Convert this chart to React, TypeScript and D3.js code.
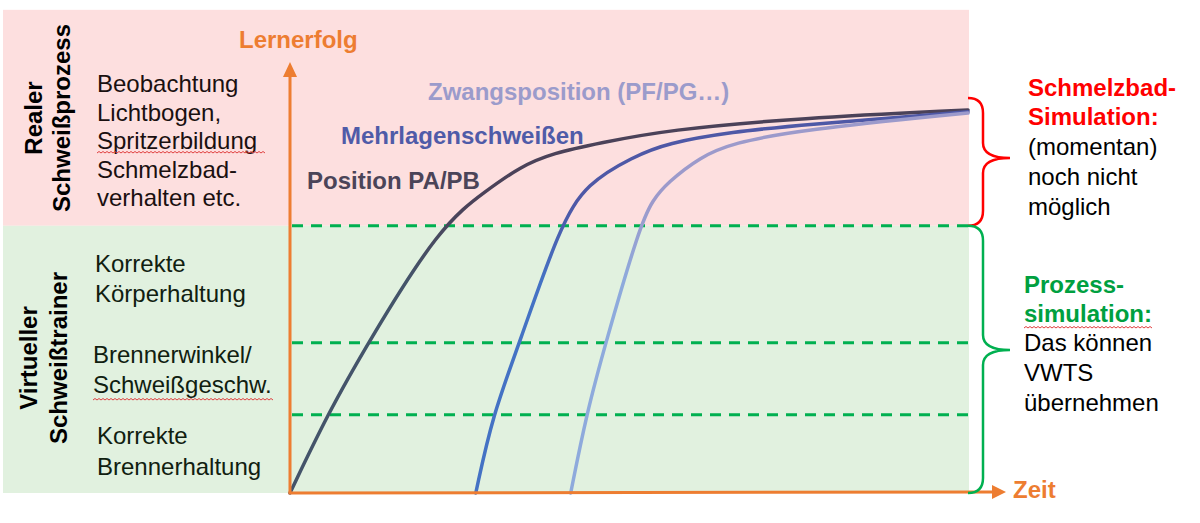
import * as d3 from "d3";

// Lernkurven (Zeit 0..100, Lernerfolg 0..100)
const curvePA = [[0, 0], [5.5, 20.3], [11.4, 38.7], [22.1, 69.4], [29.1, 78.7], [33.9, 84.7], [38.8, 88.3], [45.7, 90.9], [55.6, 94.3], [75.2, 97.4], [100, 99.5]];
const curveMehrlagen = [[27.4, 0], [29.9, 20.3], [33.8, 38.7], [39.8, 69.4], [43.8, 80.5], [50.6, 87.3], [55.6, 90.9], [65.3, 93.8], [75.2, 95.6], [100, 99.0]];
const curveZwang = [[41.4, 0], [43.7, 20.3], [46.5, 38.7], [51.6, 69.4], [53.5, 76.1], [55.6, 80.5], [60.5, 87.3], [65.3, 90.9], [75.2, 94.3], [100, 98.7]];

const curveNames = ["Position PA/PB", "Mehrlagenschweißen", "Zwangsposition (PF/PG…)"];
const levels = [69.4, 39.0, 20.3]; // gestrichelte Stufen
const bandTop = 125.5;

const leftTop = ["Beobachtung", "Lichtbogen,", "Spritzerbildung", "Schmelzbad-", "verhalten etc."];
const leftMid1 = ["Korrekte", "Körperhaltung"];
const leftMid2 = ["Brennerwinkel/", "Schweißgeschw."];
const leftBot = ["Korrekte", "Brennerhaltung"];
const rightTopHead = ["Schmelzbad-", "Simulation:"];
const rightTopBody = ["(momentan)", "noch nicht", "möglich"];
const rightBotHead = ["Prozess-", "simulation:"];
const rightBotBody = ["Das können", "VWTS", "übernehmen"];

const W = 1200, H = 523;
const x0 = 290, x1 = 968, y0 = 493, y1 = 108;
const x = d3.scaleLinear([0, 100], [x0, x1]);
const y = d3.scaleLinear([0, 100], [y0, y1]);
const FONT = "'Liberation Sans', Arial, sans-serif";
const ORANGE = "#ED7D31";
const GREEN = "#00B050";

const line = d3.line<number[]>().x((d) => x(d[0])).y((d) => y(d[1])).curve(d3.curveBasis);

function brace(xs: number, ya: number, yb: number, ym: number, xb: number, xt: number, r: number) {
  return `M${xs},${ya} Q${xb},${ya} ${xb},${ya + r} L${xb},${ym - r} Q${xb},${ym} ${xt},${ym} Q${xb},${ym} ${xb},${ym + r} L${xb},${yb - r} Q${xb},${yb} ${xs},${yb}`;
}

function squiggle(xa: number, xb: number, yy: number) {
  let d = `M${xa},${yy}`;
  for (let xx = xa; xx < xb; xx += 4) d += ` l2,-1.5 l2,1.5`;
  return d;
}

function Lines({ lines, xx, yy, lh, fill, bold }: { lines: string[]; xx: number; yy: number; lh: number; fill: string; bold?: boolean }) {
  return (
    <>
      {lines.map((t, i) => (
        <text key={i} x={xx} y={yy + i * lh} fill={fill} fontSize={24} fontWeight={bold ? "bold" : "normal"}>{t}</text>
      ))}
    </>
  );
}

export default function App() {
  const curves = [
    { data: curvePA, id: "gPA", c0: "#44546A", c1: "#4B4259" },
    { data: curveMehrlagen, id: "gML", c0: "#4472C4", c1: "#4E58A6" },
    { data: curveZwang, id: "gZW", c0: "#8EAADC", c1: "#9C9ACB" },
  ];
  return (
    <svg width={W} height={H} style={{ position: "absolute", left: 0, top: 0 }} fontFamily={FONT}>
      <defs>
        {curves.map((c) => (
          <linearGradient key={c.id} id={c.id} gradientUnits="userSpaceOnUse" x1={0} y1={y0} x2={0} y2={y1}>
            <stop offset="0%" stopColor={c.c0} />
            <stop offset="55%" stopColor={c.c0} />
            <stop offset="75%" stopColor={c.c1} />
            <stop offset="100%" stopColor={c.c1} />
          </linearGradient>
        ))}
      </defs>
      <rect x={3} y={y(bandTop)} width={x1 + 1 - 3} height={y(levels[0]) - y(bandTop)} fill="#FDDFDF" />
      <rect x={3} y={y(levels[0])} width={x1 + 1 - 3} height={y(0) - y(levels[0])} fill="#E1F1DF" />

      {levels.map((l, i) => (
        <line key={i} x1={x0 + 2} x2={x1 + 1} y1={y(l)} y2={y(l)} stroke={GREEN} strokeWidth={3} strokeDasharray="11 8" />
      ))}

      {curves.map((c) => (
        <path key={c.id} d={line(c.data as any)!} fill="none" stroke={`url(#${c.id})`} strokeWidth={3.5} strokeLinecap="round" />
      ))}

      {/* axes */}
      <line x1={x0} y1={y0} x2={x0} y2={76} stroke={ORANGE} strokeWidth={3} />
      <path d={`M${x0},62 L${x0 - 7},77 L${x0 + 7},77 Z`} fill={ORANGE} />
      <line x1={x0 - 1.5} y1={y0} x2={994} y2={y0 - 1} stroke={ORANGE} strokeWidth={3} />
      <path d={`M1006,${y0 - 1} L992,${y0 - 8} L992,${y0 + 6} Z`} fill={ORANGE} />
      <text x={239} y={48} fill={ORANGE} fontSize={24} fontWeight="bold">Lernerfolg</text>
      <text x={1013} y={498} fill={ORANGE} fontSize={24} fontWeight="bold">Zeit</text>

      {/* curve labels */}
      <text x={428} y={100} fill="#9B9BCB" fontSize={24} fontWeight="bold">{curveNames[2]}</text>
      <text x={341} y={144} fill="#4F5BA8" fontSize={24} fontWeight="bold">{curveNames[1]}</text>
      <text x={307} y={189} fill="#4B4458" fontSize={24} fontWeight="bold">{curveNames[0]}</text>

      {/* left labels */}
      <text transform="translate(42,118) rotate(-90)" textAnchor="middle" fontSize={24} fontWeight="bold" fill="#000">Realer</text>
      <text transform="translate(70,118) rotate(-90)" textAnchor="middle" fontSize={24} fontWeight="bold" fill="#000">Schweißprozess</text>
      <text transform="translate(37,358) rotate(-90)" textAnchor="middle" fontSize={24} fontWeight="bold" fill="#000">Virtueller</text>
      <text transform="translate(67,358) rotate(-90)" textAnchor="middle" fontSize={24} fontWeight="bold" fill="#000">Schweißtrainer</text>

      <Lines lines={leftTop} xx={97} yy={92} lh={28.5} fill="#1a1010" />
      <Lines lines={leftMid1} xx={95} yy={272} lh={30} fill="#102010" />
      <Lines lines={leftMid2} xx={93} yy={363} lh={30} fill="#102010" />
      <Lines lines={leftBot} xx={97} yy={444} lh={31} fill="#102010" />

      {/* right braces */}
      <path d={brace(968, 98, y(levels[0]), 158, 983, 1010, 15)} fill="none" stroke="#FF0000" strokeWidth={2.5} />
      <path d={brace(968, y(levels[0]), 493, 350, 983, 1010, 15)} fill="none" stroke={GREEN} strokeWidth={2.5} />

      <Lines lines={rightTopHead} xx={1028} yy={96} lh={29} fill="#FF0000" bold />
      <Lines lines={rightTopBody} xx={1028} yy={155} lh={30} fill="#000" />
      <Lines lines={rightBotHead} xx={1024} yy={293} lh={29} fill="#00A040" bold />
      <Lines lines={rightBotBody} xx={1024} yy={351} lh={30} fill="#000" />

      {/* spell-check squiggles */}
      <path d={squiggle(97, 263, 153)} fill="none" stroke="#E04040" strokeWidth={1} />
      <path d={squiggle(93, 273, 400)} fill="none" stroke="#E04040" strokeWidth={1} />
      <path d={squiggle(1024, 1150, 328)} fill="none" stroke="#E04040" strokeWidth={1} />
    </svg>
  );
}
